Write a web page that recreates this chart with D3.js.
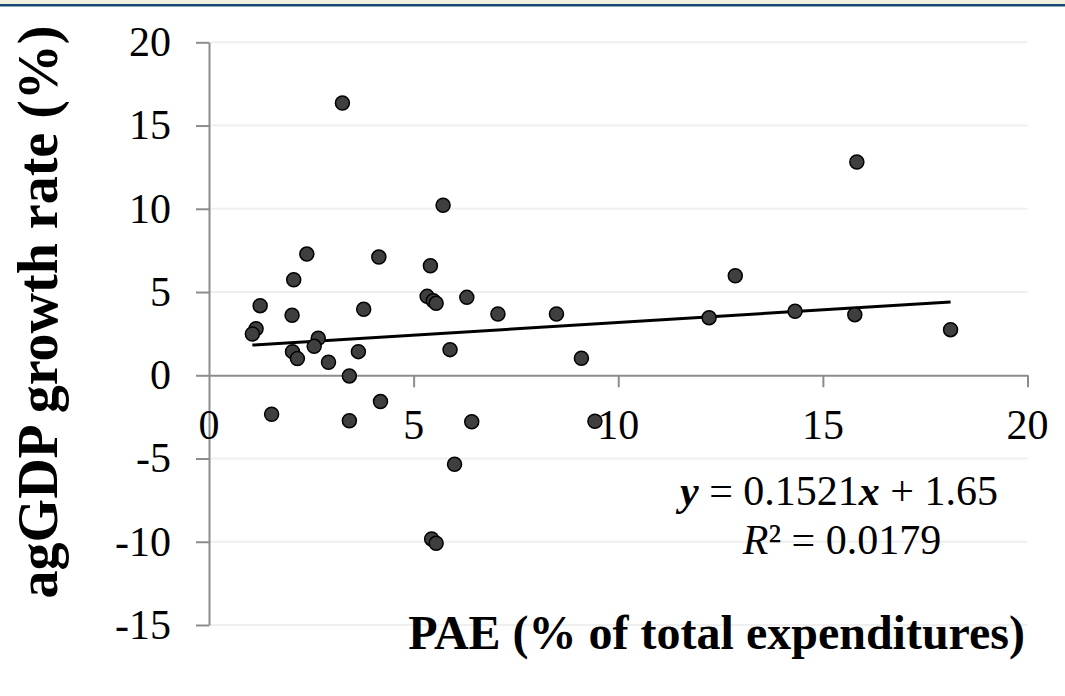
<!DOCTYPE html>
<html>
<head>
<meta charset="utf-8">
<script src="https://cdn.jsdelivr.net/npm/d3@7/dist/d3.min.js"></script>
<style>
  html, body { margin: 0; padding: 0; background: #ffffff; }
  svg { display: block; }
  text { font-family: "Liberation Serif", "Times New Roman", serif; fill: #000; }
</style>
</head>
<body>
<svg id="chart" width="1065" height="696"></svg>
<script>
// Public agricultural expenditure share (x) vs agricultural GDP growth (y)
const paeShare = [
  3.26, 5.72, 2.39, 4.15, 5.41, 2.07, 1.25, 5.33, 5.48, 5.55,
  6.30, 2.03, 3.78, 1.15, 1.06, 2.67, 2.57, 2.04, 2.16, 2.92,
  3.65, 3.43, 5.89, 1.53, 3.43, 4.19, 6.42, 6.00, 5.44, 5.55,
  7.06, 8.49, 9.10, 12.22, 12.86, 9.43, 15.83, 14.32, 15.78, 18.12
];
const agGdpGrowth = [
  16.35, 10.21, 7.28, 7.10, 6.58, 5.74, 4.18, 4.74, 4.48, 4.32,
  4.68, 3.60, 3.96, 2.80, 2.48, 2.22, 1.74, 1.42, 1.00, 0.78,
  1.42, -0.04, 1.54, -2.34, -2.73, -1.58, -2.79, -5.35, -9.83, -10.09,
  3.68, 3.68, 1.02, 3.46, 5.98, -2.76, 12.81, 3.84, 3.64, 2.74
];
const xTicks = [0, 5, 10, 15, 20];
const yTicks = [20, 15, 10, 5, 0, -5, -10, -15];

// Linear trend fitted to the points
const slope = 0.1521;
const intercept = 1.65;
const rSquared = 0.0179;

const svg = d3.select("#chart");

// Header band
svg.append("rect").attr("x", 0).attr("y", 0).attr("width", 1065).attr("height", 4).attr("fill", "#f0f1dc");
svg.append("rect").attr("x", 0).attr("y", 4).attr("width", 1065).attr("height", 2.5).attr("fill", "#17487a");

const x = d3.scaleLinear().domain([0, 20]).range([209, 1027.5]);
const y = d3.scaleLinear().domain([-15, 20]).range([625, 42.3]);

// Horizontal gridlines
svg.append("g")
  .selectAll("line")
  .data(yTicks.filter(d => d !== 0))
  .join("line")
  .attr("x1", x(0)).attr("x2", x(20))
  .attr("y1", d => y(d)).attr("y2", d => y(d))
  .attr("stroke", "#efefef").attr("stroke-width", 2);

const axisColor = "#8c8c8c";

// Vertical axis
const yAxis = svg.append("g")
  .attr("transform", `translate(${x(0)},0)`)
  .call(d3.axisLeft(y).tickValues(yTicks).tickSize(13).tickSizeOuter(0).tickFormat(""));
yAxis.select(".domain").attr("stroke", axisColor).attr("stroke-width", 2);
yAxis.selectAll(".tick line").attr("stroke", axisColor).attr("stroke-width", 2);

// Horizontal axis sits at y = 0
const xAxis = svg.append("g")
  .attr("transform", `translate(0,${y(0)})`)
  .call(d3.axisBottom(x).tickValues(xTicks.filter(d => d !== 0)).tickSize(12).tickSizeOuter(0).tickFormat(""));
xAxis.select(".domain").attr("stroke", axisColor).attr("stroke-width", 2);
xAxis.selectAll(".tick line").attr("stroke", axisColor).attr("stroke-width", 2);

// Tick labels
svg.append("g")
  .selectAll("text")
  .data(yTicks)
  .join("text")
  .attr("x", 171)
  .attr("y", d => y(d))
  .attr("dy", "0.33em")
  .attr("text-anchor", "end")
  .attr("font-size", 42)
  .text(d => d);

svg.append("g")
  .selectAll("text")
  .data(xTicks)
  .join("text")
  .attr("x", d => x(d))
  .attr("y", 439)
  .attr("text-anchor", "middle")
  .attr("font-size", 42)
  .text(d => d);

// Trend line across the observed x range
const xExtent = d3.extent(paeShare);
svg.append("line")
  .attr("x1", x(xExtent[0])).attr("y1", y(slope * xExtent[0] + intercept))
  .attr("x2", x(xExtent[1])).attr("y2", y(slope * xExtent[1] + intercept))
  .attr("stroke", "#000").attr("stroke-width", 3);

// Points
svg.append("g")
  .selectAll("circle")
  .data(paeShare.map((v, i) => [v, agGdpGrowth[i]]))
  .join("circle")
  .attr("cx", d => x(d[0]))
  .attr("cy", d => y(d[1]))
  .attr("r", 7)
  .attr("fill", "#3f3f3f")
  .attr("stroke", "#000")
  .attr("stroke-width", 1.5);

// Equation and R²
const eq = svg.append("text")
  .attr("x", 839).attr("y", 505)
  .attr("text-anchor", "middle")
  .attr("font-size", 42);
eq.append("tspan").attr("font-weight", "bold").attr("font-style", "italic").text("y");
eq.append("tspan").text(` = ${slope}`);
eq.append("tspan").attr("font-weight", "bold").attr("font-style", "italic").text("x");
eq.append("tspan").text(` + ${intercept}`);

const r2 = svg.append("text")
  .attr("x", 842).attr("y", 554)
  .attr("text-anchor", "middle")
  .attr("font-size", 42);
r2.append("tspan").attr("font-style", "italic").text("R");
r2.append("tspan").text(`² = ${rSquared}`);

// Axis titles
svg.append("text")
  .attr("x", 1025).attr("y", 649)
  .attr("text-anchor", "end")
  .attr("font-size", 48)
  .attr("font-weight", "bold")
  .text("PAE (% of total expenditures)");

svg.append("text")
  .attr("transform", `translate(57,312) rotate(-90)`)
  .attr("text-anchor", "middle")
  .attr("font-size", 56)
  .attr("font-weight", "bold")
  .text("agGDP growth rate (%)");
</script>
</body>
</html>
